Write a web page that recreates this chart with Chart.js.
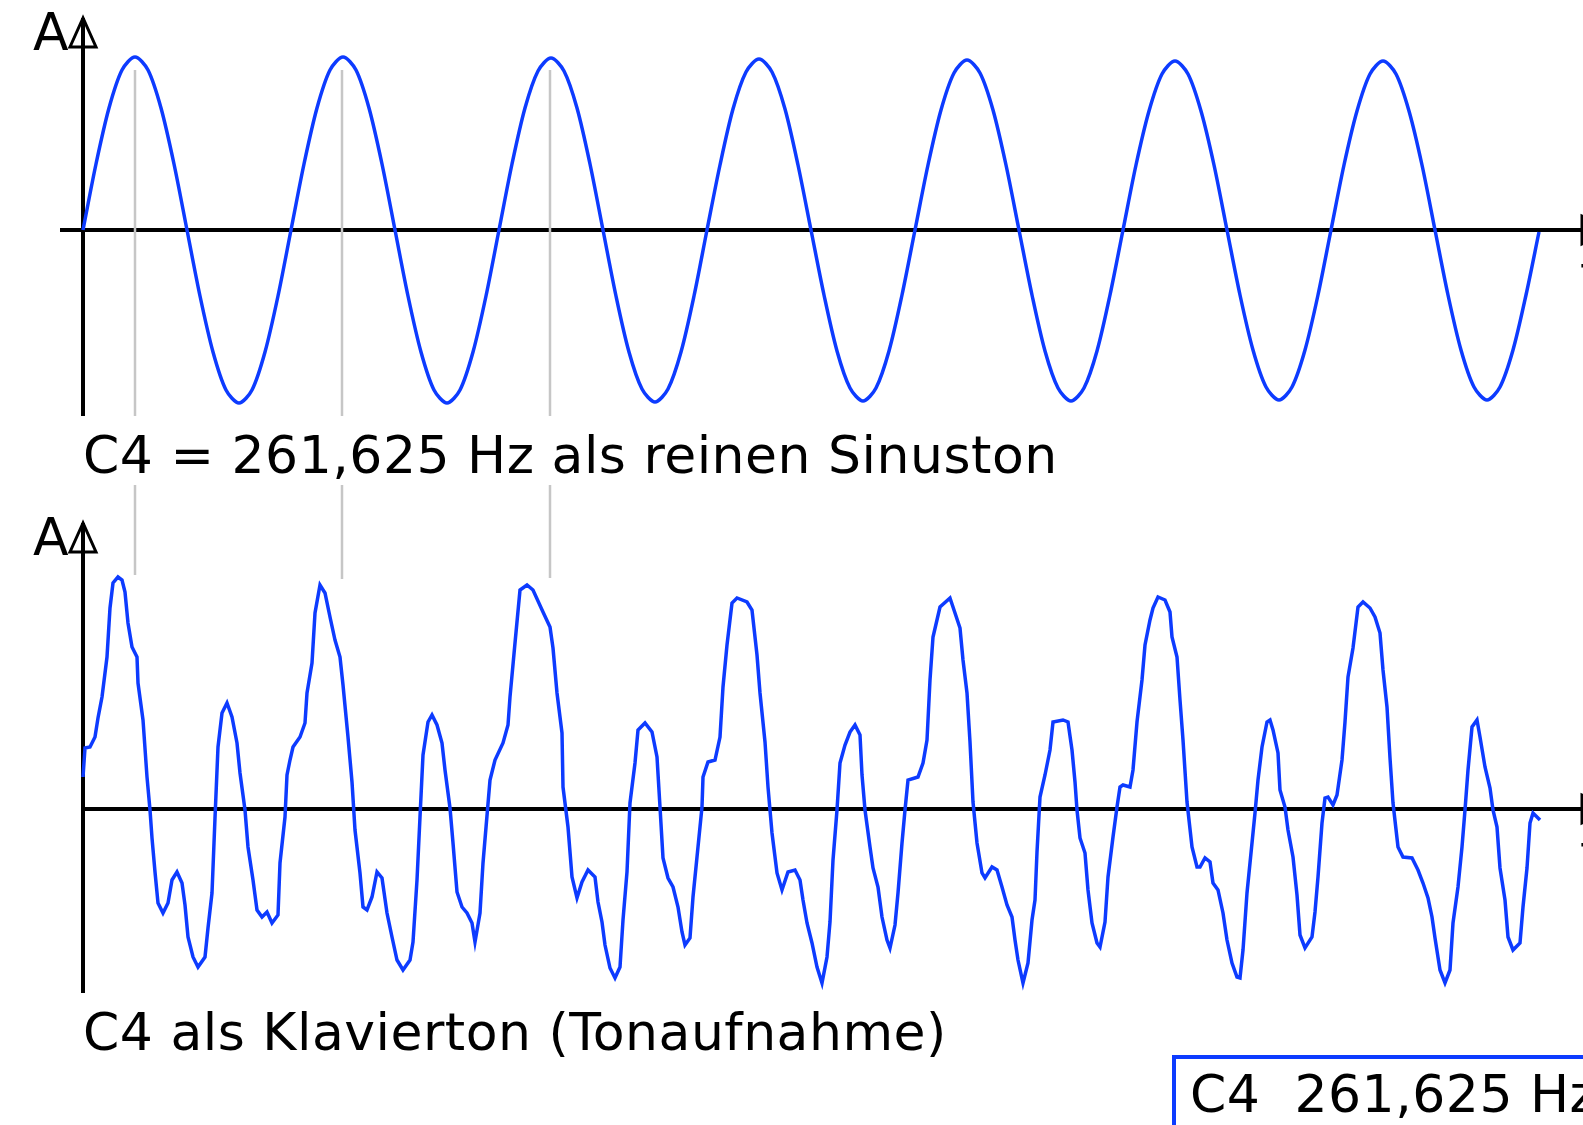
<!DOCTYPE html>
<html>
<head>
<meta charset="utf-8">
<title>C4 als Sinuston und als Klavierton</title>
<script src="https://cdn.jsdelivr.net/npm/chart.js@4.4.1/dist/chart.umd.min.js"></script>
<style>
  html, body { margin: 0; padding: 0; overflow: hidden; background: #fff; }
  #wrap { position: relative; width: 1583px; height: 1125px; overflow: hidden; }
  canvas { display: block; }
</style>
</head>
<body>
<div id="wrap"><canvas id="wave" width="1700" height="1125" style="width:1700px;height:1125px"></canvas></div>
<script>
// time axis in arbitrary units (one period of C4 ~ 208), amplitude in arbitrary units
const sineT = [0, 13, 26, 39, 52, 65, 78, 91, 104, 117, 130, 143, 156, 169, 182, 195,
  208, 221, 234, 247, 260, 273, 286, 299, 312, 325, 338, 351, 364, 377, 390, 403,
  416, 429, 442, 455, 468, 481, 494, 507, 520, 533, 546, 559, 572, 585, 598, 611,
  624, 637, 650, 663, 676, 689, 702, 715, 728, 741, 754, 767, 780, 793, 806, 819,
  832, 845, 858, 871, 884, 897, 910, 923, 936, 949, 962, 975, 988, 1001, 1014, 1027,
  1040, 1053, 1066, 1079, 1092, 1105, 1118, 1131, 1144, 1157, 1170, 1183, 1196, 1209, 1222, 1235,
  1248, 1261, 1274, 1287, 1300, 1313, 1326, 1339, 1352, 1365, 1378, 1391, 1404, 1417, 1430, 1443,
  1456];
const sineA = [0, 66, 122, 160, 173, 160, 122, 66, 0, -66, -122, -160, -173, -160, -122, -66,
  0, 66, 122, 160, 173, 160, 122, 66, 0, -66, -122, -160, -173, -160, -122, -66,
  0, 66, 122, 159, 172, 159, 122, 66, 0, -66, -122, -159, -172, -159, -122, -66,
  0, 65, 121, 158, 171, 158, 121, 65, 0, -65, -121, -158, -171, -158, -121, -65,
  0, 65, 120, 157, 170, 157, 120, 65, 0, -65, -121, -158, -171, -158, -121, -65,
  0, 65, 119, 156, 169, 156, 119, 65, 0, -65, -120, -157, -170, -157, -120, -65,
  0, 65, 119, 156, 169, 156, 119, 65, 0, -65, -120, -157, -170, -157, -120, -65,
  -2];

const pianoT = [
  0, 2, 7, 12, 15, 19, 24, 27, 30, 35, 39, 42, 45, 49, 54, 55, 60, 64, 67, 69, 72, 75, 80, 85, 89, 94, 99, 102, 105, 110, 115, 122, 125, 129, 132, 135, 139, 144, 149, 154, 157, 162, 165, 170, 174, 179, 184, 189, 195, 197, 202, 204, 207,
  210, 217, 222, 224, 229, 232, 237, 242, 247, 252, 257, 260, 265, 269, 272, 277, 280, 284, 289, 294, 299, 304, 309, 314, 320, 327, 330, 334, 337, 340, 345, 349, 354, 359, 362, 367, 370, 374, 379, 384, 389, 392, 397, 400, 407, 412, 420, 425, 427, 432, 437,
  444, 450, 460, 467, 470, 474, 479, 480, 485, 489, 494, 499, 505, 512, 515, 519, 522, 527, 532, 537, 540, 544, 547, 552, 555, 562, 569, 574, 577, 580, 585, 590, 595, 599, 602, 607, 610, 614, 619, 620, 625, 632, 637, 640, 644, 649, 654,
  664, 669, 674, 677, 682, 685, 689, 694, 699, 705, 712, 717, 720, 724, 729, 734, 739, 744, 747, 750, 754, 757, 762, 767, 772, 777, 779, 782, 787, 790, 795, 799, 804, 807, 812, 815, 819, 822, 825, 835, 840, 844, 847, 850, 857, 867,
  872, 877, 880, 884, 887, 890, 894, 899, 902, 909, 914, 919, 924, 929, 932, 935, 940, 945, 949, 952, 954, 957, 962, 967, 970, 980, 985, 989, 992, 994, 997, 1002, 1005, 1009, 1014, 1017, 1022, 1025, 1030, 1034, 1037, 1040, 1047, 1050, 1054, 1059, 1062, 1067, 1070, 1075,
  1082, 1087, 1089, 1094, 1097, 1100, 1104, 1109, 1114, 1117, 1122, 1127, 1130, 1135, 1140, 1144, 1149, 1154, 1157, 1160, 1164, 1169, 1172, 1175, 1179, 1184, 1187, 1190, 1195, 1197, 1202, 1205, 1210, 1214, 1217, 1222, 1229, 1232, 1235, 1239, 1242, 1245, 1250, 1254, 1259, 1262, 1265, 1270, 1275, 1280,
  1287, 1292, 1297, 1300, 1304, 1307, 1310, 1315, 1320, 1329, 1335, 1340, 1345, 1349, 1352, 1357, 1362, 1367, 1370, 1375, 1379, 1382, 1385, 1389, 1394, 1397, 1402, 1407, 1410, 1414, 1417, 1422, 1425, 1430, 1437, 1440, 1444, 1447, 1450, 1457];
const pianoA = [
  32, 61, 62, 72, 91, 112, 152, 201, 226, 232, 229, 217, 186, 162, 152, 126, 89, 32, -1, -29, -63, -94, -104, -94, -71, -63, -74, -96, -128, -148, -158, -148, -119, -84, -9, 62, 96, 106, 92, 66, 36, -1, -38, -71, -101, -108, -103, -114, -106, -54, -8, 34, 49,
  62, 72, 86, 116, 146, 196, 224, 216, 192, 169, 152, 124, 72, 27, -21, -64, -98, -101, -88, -63, -69, -104, -128, -151, -161, -151, -133, -71, -8, 54, 87, 94, 84, 66, 39, 1, -34, -83, -98, -104, -114, -133, -104, -54, 29, 49, 66, 84, 112, 166, 219,
  224, 219, 197, 182, 161, 116, 76, 22, -18, -68, -89, -73, -61, -68, -93, -113, -136, -159, -169, -158, -111, -63, 6, 46, 79, 86, 77, 52, 2, -49, -69, -78, -98, -123, -136, -129, -88, -48, 2, 32, 47, 49, 72, 122, 164, 206, 211,
  207, 199, 154, 116, 67, 22, -24, -64, -81, -63, -61, -71, -91, -114, -134, -158, -174, -148, -113, -51, -1, 46, 64, 77, 84, 74, 34, -1, -38, -59, -78, -108, -131, -139, -116, -84, -34, -1, 29, 32, 46, 69, 129, 172, 202, 211,
  196, 181, 149, 116, 67, 7, -34, -64, -69, -58, -61, -78, -96, -108, -131, -151, -174, -154, -111, -91, -43, 12, 34, 59, 87, 89, 87, 59, 27, -1, -29, -44, -81, -114, -134, -138, -113, -68, -28, 2, 22, 24, 22, 39, 87, 129, 164, 189, 201, 212,
  209, 197, 172, 152, 109, 69, 7, -38, -58, -58, -49, -53, -74, -81, -104, -131, -154, -168, -169, -141, -84, -34, -4, 29, 62, 87, 89, 79, 56, 19, 2, -21, -48, -86, -126, -139, -128, -103, -68, -14, 11, 12, 4, 14, 49, 87, 132, 161, 202, 207,
  201, 192, 176, 139, 102, 51, 6, -38, -48, -49, -61, -74, -89, -108, -129, -161, -174, -161, -114, -78, -38, -1, 39, 82, 89, 72, 42, 21, -1, -18, -59, -91, -128, -141, -134, -98, -59, -14, -4, -11];

// grey guide lines at the first three sine maxima
const markT = [52, 259, 467];
const markTopFrom = [160, 160, 160];
const markTopTo = [-186, -186, -186];
const markBotFrom = [324, 324, 324];
const markBotTo = [234, 230, 231];

const topLabel = "C4 = 261,625 Hz als reinen Sinuston";
const bottomLabel = "C4 als Klavierton (Tonaufnahme)";
const boxLabel = "C4  261,625 Hz";

const BLUE = "#0d3bff";
const FONT = '52px "DejaVu Sans"';

function pairs(ts, as) {
  return ts.map((t, i) => ({x: t, y: as[i]}));
}
function marks(from, to) {
  const out = [];
  markT.forEach((t, i) => { out.push({x: t, y: from[i]}, {x: t, y: to[i]}, {x: t, y: null}); });
  return out;
}

const decor = {
  id: "decor",
  beforeDatasetsDraw(chart) {
    const {ctx, scales: {x, yTop, yBot}} = chart;
    const x0 = x.getPixelForValue(0);
    const xEnd = x.getPixelForValue(1529);
    ctx.save();
    ctx.strokeStyle = "#000";
    ctx.lineWidth = 4;
    const seg = (ax, ay, bx, by) => { ctx.beginPath(); ctx.moveTo(ax, ay); ctx.lineTo(bx, by); ctx.stroke(); };
    // top panel axes
    seg(x.getPixelForValue(-23), yTop.getPixelForValue(0), xEnd, yTop.getPixelForValue(0));
    seg(x0, yTop.getPixelForValue(212), x0, yTop.getPixelForValue(-186));
    // bottom panel axes
    seg(x0, yBot.getPixelForValue(0), xEnd, yBot.getPixelForValue(0));
    seg(x0, yBot.getPixelForValue(286), x0, yBot.getPixelForValue(-184));
    ctx.restore();
  },
  afterDatasetsDraw(chart) {
    const {ctx, scales: {x, yTop, yBot}} = chart;
    const x0 = x.getPixelForValue(0);
    const xEnd = x.getPixelForValue(1529);
    ctx.save();
    ctx.strokeStyle = "#000";
    ctx.lineWidth = 3;
    const up = (px, py) => {
      ctx.beginPath();
      ctx.moveTo(px, py); ctx.lineTo(px - 13, py + 29); ctx.lineTo(px + 13, py + 29); ctx.closePath();
      ctx.stroke();
    };
    const right = (px, py) => {
      ctx.beginPath();
      ctx.moveTo(px, py); ctx.lineTo(px - 30, py - 14); ctx.lineTo(px - 30, py + 14); ctx.closePath();
      ctx.stroke();
    };
    up(x0, yTop.getPixelForValue(212));
    up(x0, yBot.getPixelForValue(286));
    right(xEnd, yTop.getPixelForValue(0));
    right(xEnd, yBot.getPixelForValue(0));

    ctx.fillStyle = "#000";
    ctx.font = FONT;
    ctx.textBaseline = "alphabetic";
    ctx.fillText("A", x0 - 50, yTop.getPixelForValue(212) + 32);
    ctx.fillText("A", x0 - 50, yBot.getPixelForValue(286) + 32);
    ctx.fillText("t", xEnd - 32, yTop.getPixelForValue(0) + 62);
    ctx.fillText("t", xEnd - 32, yBot.getPixelForValue(0) + 62);
    ctx.letterSpacing = "0.5px";
    ctx.fillText(topLabel, x0, yTop.getPixelForValue(-243));
    ctx.fillText(bottomLabel, x0, yBot.getPixelForValue(-241));

    // frequency box, cut by the page edge
    ctx.strokeStyle = BLUE;
    ctx.lineWidth = 4;
    const bx = x.getPixelForValue(1091), by = yBot.getPixelForValue(-248);
    ctx.strokeRect(bx, by, chart.width - bx + 20, chart.height - by + 20);
    ctx.fillText(boxLabel, x.getPixelForValue(1107), yBot.getPixelForValue(-303));
    ctx.restore();
  }
};

new Chart(document.getElementById("wave"), {
  type: "line",
  data: {
    datasets: [
      {
        label: "Klavierton",
        data: pairs(pianoT, pianoA),
        yAxisID: "yBot",
        borderColor: BLUE,
        borderWidth: 3.5,
        tension: 0,
        order: 0
      },
      {
        label: "Sinuston",
        data: pairs(sineT, sineA),
        yAxisID: "yTop",
        borderColor: BLUE,
        borderWidth: 3.5,
        tension: 0.3,
        order: 1
      },
      {
        label: "Maxima oben",
        data: marks(markTopFrom, markTopTo),
        yAxisID: "yTop",
        borderColor: "#c6c6c6",
        borderWidth: 2.5,
        order: 2
      },
      {
        label: "Maxima unten",
        data: marks(markBotFrom, markBotTo),
        yAxisID: "yBot",
        borderColor: "#c6c6c6",
        borderWidth: 2.5,
        order: 3
      }
    ]
  },
  options: {
    responsive: false,
    animation: false,
    devicePixelRatio: 1,
    layout: { padding: 0 },
    elements: { point: { radius: 0, hoverRadius: 0 }, line: { borderCapStyle: "butt" } },
    plugins: { legend: { display: false }, tooltip: { enabled: false }, title: { display: false } },
    events: [],
    scales: {
      x: { type: "linear", min: -83, max: 1617, display: false },
      yTop: { type: "linear", min: -895, max: 230, display: false },
      yBot: { type: "linear", min: -316, max: 809, display: false }
    }
  },
  plugins: [decor]
});
</script>
</body>
</html>
